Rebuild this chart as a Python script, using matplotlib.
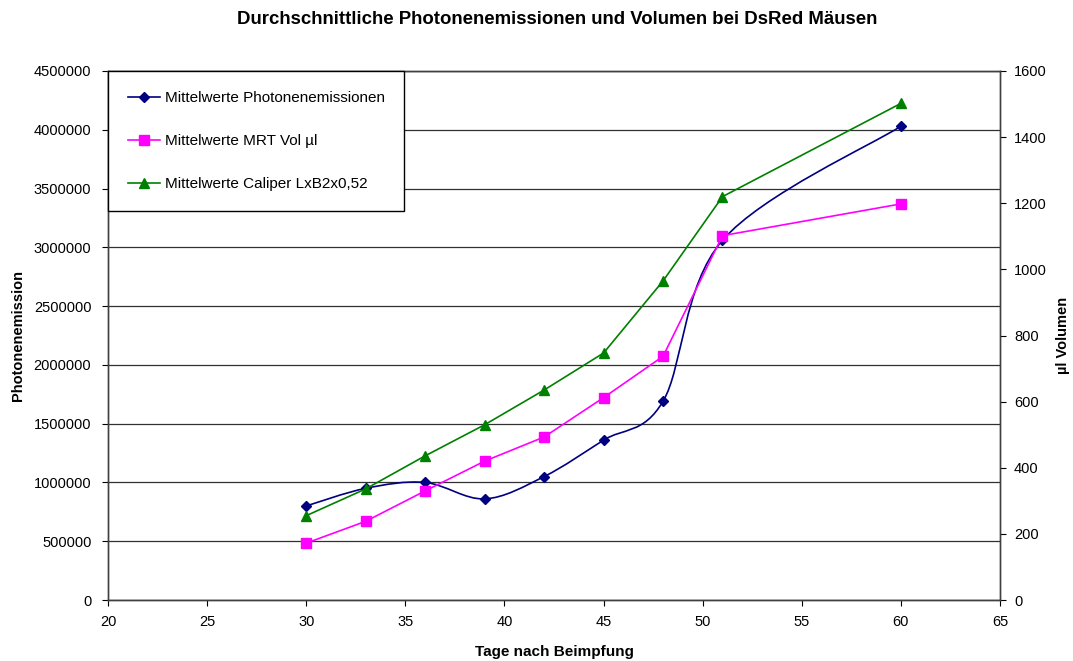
import matplotlib
matplotlib.use("Agg")
import matplotlib.pyplot as plt
import numpy as np
from matplotlib.path import Path
from matplotlib.patches import PathPatch
from matplotlib.lines import Line2D

plt.rcParams["font.family"] = ["Liberation Sans", "DejaVu Sans"]

days = [30, 33, 36, 39, 42, 45, 48, 51, 60]
photon = [800000, 950000, 1000000, 860000, 1050000, 1360000, 1690000, 3060000, 4030000]
mrt_vol = [172, 238, 330, 420, 493, 612, 737, 1102, 1198]
caliper = [255, 336, 436, 530, 635, 747, 965, 1220, 1502]

x_ticks = list(range(20, 70, 5))
left_ticks = list(range(0, 5000000, 500000))
right_ticks = list(range(0, 1800, 200))

NAVY = "#000080"
PINK = "#FF00FF"
GREEN = "#008000"


def smooth_path(xs, ys):
    # Excel-style smoothed line: cubic Bezier segments through each point
    pts = np.column_stack([xs, ys]).astype(float)
    n = len(pts)
    verts = [pts[0]]
    codes = [Path.MOVETO]
    for i in range(n - 1):
        p0 = pts[i - 1] if i > 0 else pts[i]
        p1 = pts[i]
        p2 = pts[i + 1]
        p3 = pts[i + 2] if i + 2 < n else pts[i + 1]
        c1 = p1 + (p2 - p0) / 6.0
        c2 = p2 - (p3 - p1) / 6.0
        verts += [c1, c2, p2]
        codes += [Path.CURVE4] * 3
    return Path(verts, codes)


fig = plt.figure(figsize=(10.73, 6.61), dpi=100)
ax = fig.add_axes([108 / 1073, 61 / 661, 892 / 1073, 529 / 661])
ax2 = ax.twinx()

ax.set_xlim(20, 65)
ax.set_ylim(0, 4500000)
ax2.set_ylim(0, 1600)

ax.set_xticks(x_ticks)
ax.set_yticks(left_ticks)
ax2.set_yticks(right_ticks)
ax.set_yticklabels([str(v) for v in left_ticks])
ax.tick_params(axis="x", labelsize=10.5, length=4, direction="out", pad=7)
ax.tick_params(axis="y", labelsize=10.5, length=4, direction="out", pad=8)
ax2.tick_params(labelsize=10.5, length=4, direction="out", pad=6)

ax.grid(True, axis="y", color="#303030", linewidth=0.9)
ax.set_axisbelow(True)

for a in (ax, ax2):
    for s in a.spines.values():
        s.set_color("#404040")
        s.set_linewidth(1.0)

# blue smoothed line on left axis
patch = PathPatch(smooth_path(days, photon), facecolor="none", edgecolor=NAVY, linewidth=1.2, zorder=3)
ax.add_patch(patch)
ax.plot(days, photon, linestyle="none", marker="D", markersize=5.5, color=NAVY, zorder=4)

ax2.plot(days, mrt_vol, color=PINK, linewidth=1.2, marker="s", markersize=7, zorder=3)
ax2.plot(days, caliper, color=GREEN, linewidth=1.2, marker="^", markersize=7.5, zorder=3)

ax.set_xlabel("Tage nach Beimpfung", fontsize=11, fontweight="bold", labelpad=11)
ax.set_ylabel("Photonenemission", fontsize=10.5, fontweight="bold", labelpad=6)
ax2.set_ylabel("µl Volumen", fontsize=10.5, fontweight="bold", labelpad=7)

fig.text(557 / 1073, 1 - 19 / 661, "Durchschnittliche Photonenemissionen und Volumen bei DsRed Mäusen",
         ha="center", va="center", fontsize=13.4, fontweight="bold")

handles = [
    Line2D([], [], color=NAVY, linewidth=1.2, marker="D", markersize=5.5),
    Line2D([], [], color=PINK, linewidth=1.2, marker="s", markersize=7),
    Line2D([], [], color=GREEN, linewidth=1.2, marker="^", markersize=7.5),
]
labels = ["Mittelwerte Photonenemissionen", "Mittelwerte MRT Vol µl", "Mittelwerte Caliper LxB2x0,52"]
leg = ax2.legend(handles, labels, loc="upper left", bbox_to_anchor=(0.0, 1.0), borderaxespad=0,
                 fontsize=11, labelspacing=1.9, handlelength=2.1, handletextpad=0.3,
                 borderpad=1.3, fancybox=False, framealpha=1, edgecolor="black")
leg.get_frame().set_linewidth(1.0)
leg.set_zorder(10)

fig.savefig("out.png", dpi=100)
